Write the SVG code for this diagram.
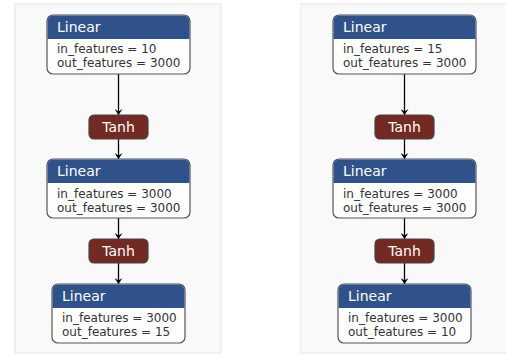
<svg xmlns="http://www.w3.org/2000/svg" width="506" height="356" viewBox="0 0 506 356">
<defs>
<style>
.panel{fill:#f9f9f9;stroke:#ececec;stroke-width:1.5}
.box{fill:#ffffff;stroke:#555555;stroke-width:1.2}
.hdr{fill:#30528a}
.tanh{fill:#732a22;stroke:#444444;stroke-width:1.2}
.title{font-family:"DejaVu Sans","Open Sans",sans-serif;font-size:14px;fill:#ffffff}
.attr{font-family:"DejaVu Sans","Open Sans",sans-serif;font-size:12px;fill:#333333}
.edge{stroke:#000000;stroke-width:1.3;fill:none;marker-end:url(#ah)}
</style>
<marker id="ah" viewBox="0 0 10 10" refX="10" refY="5" markerWidth="6" markerHeight="8" preserveAspectRatio="none" markerUnits="userSpaceOnUse" orient="auto">
<path d="M0,0 L10,5 L0,10 L4,5 Z" fill="#000000"/>
</marker>
</defs>
<rect class="panel" x="15" y="4" width="206" height="349"/>
<rect class="panel" x="301" y="4" width="206" height="349"/>

<g id="connectors">
<line class="edge" x1="118.5" y1="74" x2="118.5" y2="115"/>
<line class="edge" x1="118.5" y1="139" x2="118.5" y2="159"/>
<line class="edge" x1="118.5" y1="218" x2="118.5" y2="239"/>
<line class="edge" x1="118.5" y1="263" x2="118.5" y2="284"/>
<line class="edge" x1="404.5" y1="74" x2="404.5" y2="115"/>
<line class="edge" x1="404.5" y1="139" x2="404.5" y2="159"/>
<line class="edge" x1="404.5" y1="218" x2="404.5" y2="239"/>
<line class="edge" x1="404.5" y1="263" x2="404.5" y2="284"/>
</g>

<g id="l_linear1">
<rect class="box" x="47" y="15" width="143" height="59" rx="6"/>
<path class="hdr" d="M53,15.6 H184 A5.4,5.4 0 0 1 189.4,21 V39 H47.6 V21 A5.4,5.4 0 0 1 53,15.6 Z"/>
<text class="title" x="57" y="32">Linear</text>
<text class="attr" x="57" y="53">in_features = 10</text>
<text class="attr" x="57" y="67">out_features = 3000</text>
</g>
<g id="l_tanh1">
<rect class="tanh" x="89" y="115" width="59" height="24" rx="5"/>
<text class="title" x="118.5" y="132" text-anchor="middle">Tanh</text>
</g>
<g id="l_linear2">
<rect class="box" x="47" y="159" width="143" height="59" rx="6"/>
<path class="hdr" d="M53,159.6 H184 A5.4,5.4 0 0 1 189.4,165 V183 H47.6 V165 A5.4,5.4 0 0 1 53,159.6 Z"/>
<text class="title" x="57" y="176">Linear</text>
<text class="attr" x="57" y="197.5">in_features = 3000</text>
<text class="attr" x="57" y="211.5">out_features = 3000</text>
</g>
<g id="l_tanh2">
<rect class="tanh" x="89" y="239" width="59" height="24" rx="5"/>
<text class="title" x="118.5" y="256" text-anchor="middle">Tanh</text>
</g>
<g id="l_linear3">
<rect class="box" x="52" y="284" width="133" height="59" rx="6"/>
<path class="hdr" d="M58,284.6 H179 A5.4,5.4 0 0 1 184.4,290 V308 H52.6 V290 A5.4,5.4 0 0 1 58,284.6 Z"/>
<text class="title" x="62" y="301">Linear</text>
<text class="attr" x="62" y="322">in_features = 3000</text>
<text class="attr" x="62" y="336">out_features = 15</text>
</g>

<g id="r_linear1">
<rect class="box" x="333" y="15" width="143" height="59" rx="6"/>
<path class="hdr" d="M339,15.6 H470 A5.4,5.4 0 0 1 475.4,21 V39 H333.6 V21 A5.4,5.4 0 0 1 339,15.6 Z"/>
<text class="title" x="343" y="32">Linear</text>
<text class="attr" x="343" y="53">in_features = 15</text>
<text class="attr" x="343" y="67">out_features = 3000</text>
</g>
<g id="r_tanh1">
<rect class="tanh" x="375" y="115" width="59" height="24" rx="5"/>
<text class="title" x="404.5" y="132" text-anchor="middle">Tanh</text>
</g>
<g id="r_linear2">
<rect class="box" x="333" y="159" width="143" height="59" rx="6"/>
<path class="hdr" d="M339,159.6 H470 A5.4,5.4 0 0 1 475.4,165 V183 H333.6 V165 A5.4,5.4 0 0 1 339,159.6 Z"/>
<text class="title" x="343" y="176">Linear</text>
<text class="attr" x="343" y="197.5">in_features = 3000</text>
<text class="attr" x="343" y="211.5">out_features = 3000</text>
</g>
<g id="r_tanh2">
<rect class="tanh" x="375" y="239" width="59" height="24" rx="5"/>
<text class="title" x="404.5" y="256" text-anchor="middle">Tanh</text>
</g>
<g id="r_linear3">
<rect class="box" x="338" y="284" width="133" height="59" rx="6"/>
<path class="hdr" d="M344,284.6 H465 A5.4,5.4 0 0 1 470.4,290 V308 H338.6 V290 A5.4,5.4 0 0 1 344,284.6 Z"/>
<text class="title" x="348" y="301">Linear</text>
<text class="attr" x="348" y="322">in_features = 3000</text>
<text class="attr" x="348" y="336">out_features = 10</text>
</g>
</svg>
